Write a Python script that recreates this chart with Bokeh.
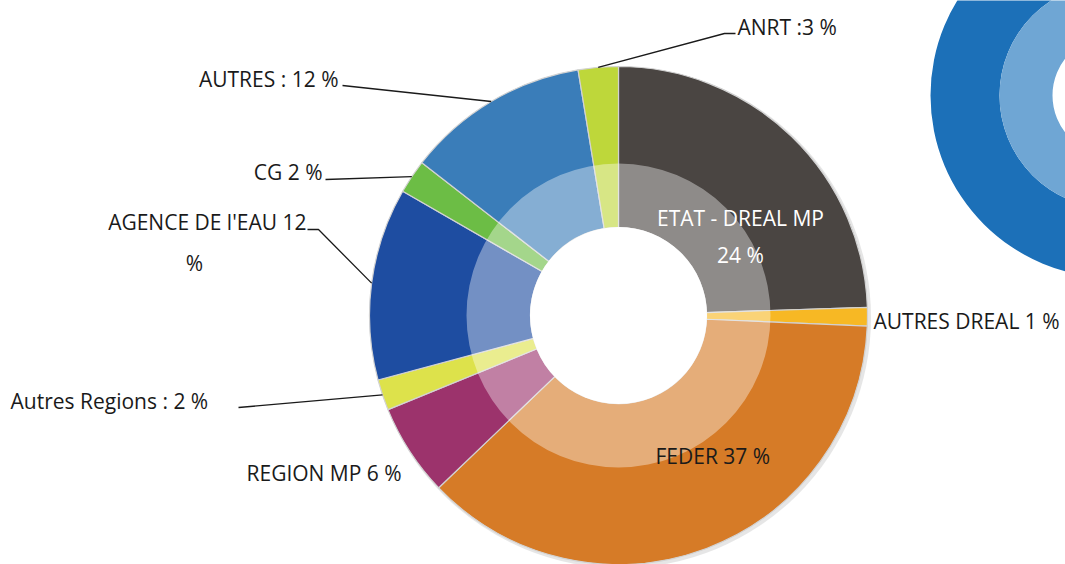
import numpy as np
from bokeh.plotting import figure
from bokeh.models import Range1d, ColumnDataSource
from bokeh.core.properties import value
from bokeh.embed import file_html
from bokeh.resources import INLINE

W, H = 1065, 564

# ---- data (clockwise from 12 o'clock), shares ----
categories = ["ETAT - DREAL MP", "AUTRES DREAL", "FEDER", "REGION MP", "Autres Regions",
              "AGENCE DE l'EAU", "CG", "AUTRES", "ANRT"]
shares = [24.5, 1.2, 37.2, 6.0, 2.0, 12.5, 2.2, 11.9, 2.6]
colors = ["#4a4542", "#f7b824", "#d67b27", "#9c336c", "#dde24b",
          "#1e4da1", "#6cbd45", "#3a7db9", "#bed73a"]
label_texts = ["ETAT - DREAL MP", "AUTRES DREAL 1 %", "FEDER 37 %", "REGION MP 6 %",
               "Autres Regions : 2 %", "AGENCE DE l'EAU 12", "CG 2 %", "AUTRES : 12 %", "ANRT :3 %"]
deco_colors = ["#1c70b8", "#6fa6d4"]

# ---- layout (screen px, y down) ----
CX, CY_PX = 618, 315
R_OUT, R_MID, R_HOLE = 249, 152, 88
FONT = value("Open Sans")
FS = "21px"

def Y(ypx):
    return H - ypx

p = figure(width=W, height=H, x_range=Range1d(0, W), y_range=Range1d(0, H),
           output_backend="svg", toolbar_location=None, min_border=0)
p.axis.visible = False
p.grid.visible = False
p.outline_line_color = None
p.background_fill_color = "white"
p.border_fill_color = "white"

cx, cy = CX, Y(CY_PX)

frac = np.array(shares, dtype=float) / sum(shares)
cum = np.concatenate([[0.0], np.cumsum(frac)])
start = np.pi / 2 - 2 * np.pi * cum[:-1]
end = np.pi / 2 - 2 * np.pi * cum[1:]

# soft shadow
p.circle(x=cx + 2, y=cy - 2, radius=R_OUT + 1.5, fill_color="#9a9a9a", fill_alpha=0.25, line_color=None)

src = ColumnDataSource(dict(cat=categories, share=shares, color=colors, start=start, end=end))
p.annular_wedge(x=cx, y=cy, inner_radius=R_HOLE, outer_radius=R_OUT,
                start_angle="start", end_angle="end", direction="clock",
                fill_color="color", line_color="#d2d2d2", line_width=1.2, source=src)
p.annulus(x=cx, y=cy, inner_radius=R_HOLE, outer_radius=R_MID,
          fill_color="white", fill_alpha=0.38, line_color=None)
p.circle(x=cx, y=cy, radius=R_HOLE + 0.5, fill_color="white", line_color=None)

# decorative partial donut (top right)
p.annulus(x=1112, y=Y(95), inner_radius=113, outer_radius=182, fill_color=deco_colors[0], line_color=None)
p.annulus(x=1112, y=Y(95), inner_radius=60, outer_radius=113, fill_color=deco_colors[1], line_color=None)

# leader lines: text-side waypoints, ending on slice mid-angle at outer radius
leader_pts = {
    "ANRT": [(735, 33), (724, 33)],
    "AUTRES": [(342, 85)],
    "CG": [(325, 179)],
    "AGENCE DE l'EAU": [(307, 229), (318, 229)],
    "Autres Regions": [(238, 407)],
}
xs, ys = [], []
for i, c in enumerate(categories):
    if c in leader_pts:
        th = 2 * np.pi * (cum[i] + frac[i] / 2)
        ex, ey = cx + R_OUT * np.sin(th), cy + R_OUT * np.cos(th)
        pts = leader_pts[c]
        xs.append([q[0] for q in pts] + [ex])
        ys.append([Y(q[1]) for q in pts] + [ey])
p.multi_line(xs=xs, ys=ys, line_color="#1a1a1a", line_width=1.3)

# labels: (x, y_px, align, color)
label_pos = [
    (740, 217, "center", "white"),
    (873, 320, "left", "#1a1a1a"),
    (655, 455, "left", "#1a1a1a"),
    (246, 472, "left", "#1a1a1a"),
    (10, 400, "left", "#1a1a1a"),
    (306, 221, "right", "#1a1a1a"),
    (322, 171, "right", "#1a1a1a"),
    (338, 78, "right", "#1a1a1a"),
    (737, 26, "left", "#1a1a1a"),
]
extra = [("24 %", 740, 254, "center", "white"), ("%", 194, 262, "center", "#1a1a1a")]
tx = [q[0] for q in label_pos] + [e[1] for e in extra]
ty = [Y(q[1]) for q in label_pos] + [Y(e[2]) for e in extra]
tt = label_texts + [e[0] for e in extra]
ta = [q[2] for q in label_pos] + [e[3] for e in extra]
tc = [q[3] for q in label_pos] + [e[4] for e in extra]
tsrc = ColumnDataSource(dict(x=tx, y=ty, text=tt, align=ta, color=tc))
p.text(x="x", y="y", text="text", text_align="align", text_color="color",
       text_baseline="middle", text_font=FONT, text_font_size=FS, source=tsrc)

open("out.html", "w").write(file_html(p, INLINE))
